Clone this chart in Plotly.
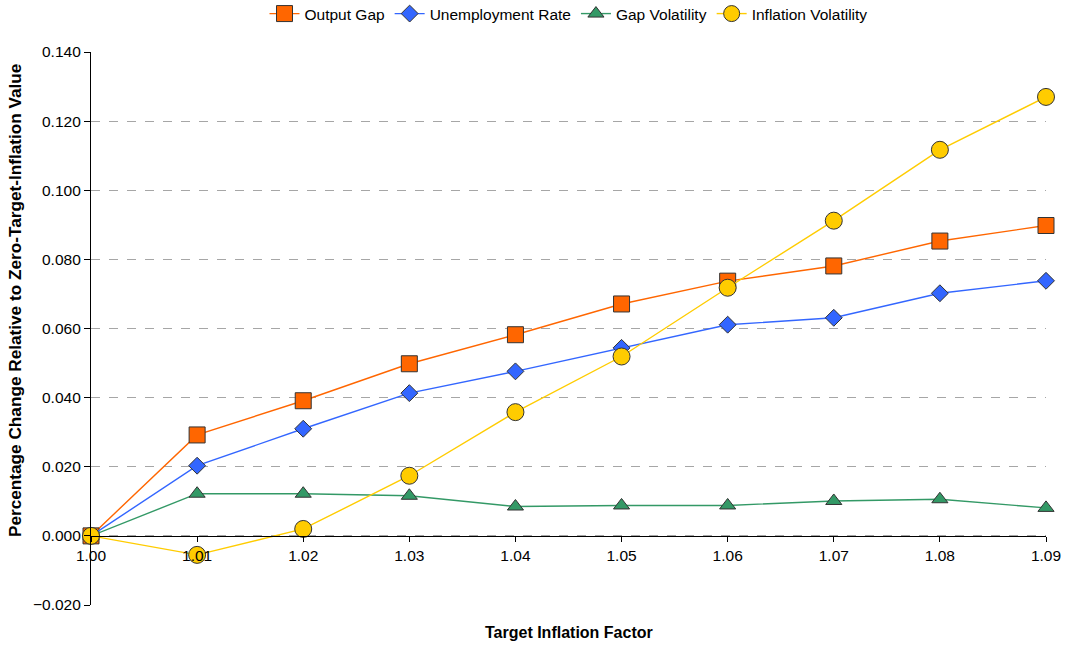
import plotly.graph_objects as go

x_vals = [1.00, 1.01, 1.02, 1.03, 1.04, 1.05, 1.06, 1.07, 1.08, 1.09]
output_gap = [0.0, 0.0292, 0.0391, 0.0498, 0.0582, 0.0671, 0.0737, 0.0781, 0.0853, 0.0898]
unemployment = [0.0, 0.0203, 0.0310, 0.0413, 0.0476, 0.0544, 0.0611, 0.0631, 0.0702, 0.0738]
gap_vol = [0.0, 0.0122, 0.0122, 0.0116, 0.0085, 0.0088, 0.0088, 0.0101, 0.0106, 0.0081]
infl_vol = [0.0, -0.0055, 0.0020, 0.0174, 0.0358, 0.0519, 0.0718, 0.0912, 0.1117, 0.1270]

names = ["Output Gap", "Unemployment Rate", "Gap Volatility", "Inflation Volatility"]
series = [output_gap, unemployment, gap_vol, infl_vol]
colors = ["#FF6600", "#3366FF", "#339966", "#FFCC00"]
symbols = ["square", "diamond", "triangle-up", "circle"]
sizes = [16, 13, 14, 17]

FONT = "Liberation Sans, Arial, sans-serif"

fig = go.Figure()
for n, s, c, sym, sz in zip(names, series, colors, symbols, sizes):
    fig.add_trace(go.Scatter(
        x=x_vals, y=s, name=n, mode="lines+markers",
        line=dict(color=c, width=1.4),
        marker=dict(symbol=sym, size=sz, color=c, line=dict(color="#333333", width=1)),
        cliponaxis=False,
    ))

fig.update_layout(
    width=1066, height=647,
    margin=dict(l=91, r=20, t=52, b=42, autoexpand=False),
    paper_bgcolor="white", plot_bgcolor="white",
    font=dict(family=FONT, size=15.5, color="black"),
    showlegend=True,
    legend=dict(orientation="h", x=0.5, xanchor="center", y=1 - 14 / 647, yanchor="middle",
                yref="container", font=dict(size=15.5), itemwidth=30, tracegroupgap=0),
    xaxis=dict(
        range=[1.0, 1.09], dtick=0.01, tick0=1.0, tickformat=".2f",
        anchor="free", position=0.125,
        showline=True, linecolor="black", linewidth=1.2,
        ticks="outside", ticklen=5, tickcolor="black",
        showgrid=False, zeroline=False,
        tickfont=dict(size=15.5),
    ),
    yaxis=dict(
        range=[-0.02, 0.14], dtick=0.02, tickformat=".3f",
        showline=True, linecolor="black", linewidth=1.2,
        ticks="outside", ticklen=6, tickcolor="black",
        showgrid=True, gridcolor="#a6a6a6", griddash="dash", gridwidth=1,
        zeroline=False,
        tickfont=dict(size=15.5),
    ),
    annotations=[
        dict(text="<b>Target Inflation Factor</b>", xref="paper", yref="paper",
             x=0.5, y=-27 / 553, xanchor="center", yanchor="middle",
             showarrow=False, font=dict(size=16)),
        dict(text="<b>Percentage Change Relative to Zero-Target-Inflation Value</b>",
             xref="paper", yref="paper", x=(15 - 91) / 955, y=(605 - 301) / 553,
             xanchor="center", yanchor="middle", textangle=-90,
             showarrow=False, font=dict(size=17.2)),
    ],
)

fig.write_html("out.html", config={"displayModeBar": False},
               post_script="document.body.style.margin='0px';document.body.style.overflow='hidden';")
